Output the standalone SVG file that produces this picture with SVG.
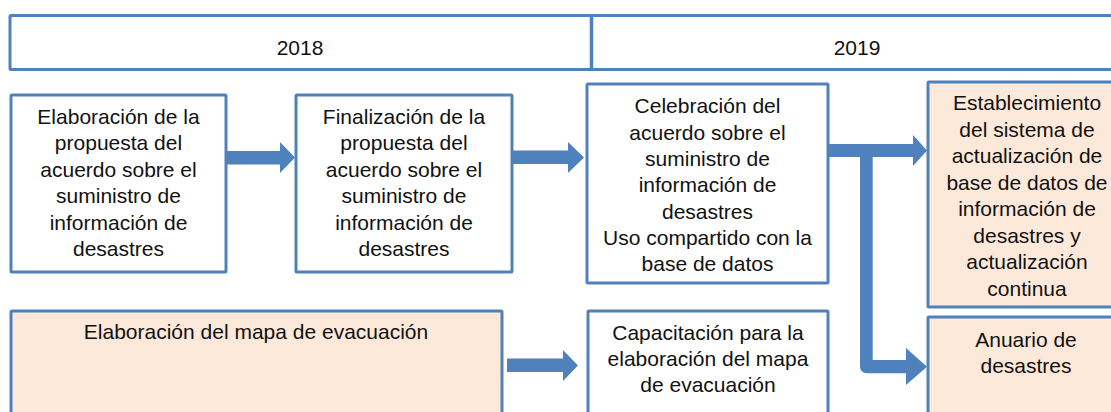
<svg xmlns="http://www.w3.org/2000/svg" width="1111" height="412" viewBox="0 0 1111 412">
<style>
.box{stroke:#4F81BD;stroke-width:3;fill:#FFFFFF}
.peach{fill:#FDE9D9}
.t{font-family:"Liberation Sans",Arial,sans-serif;font-size:21px;fill:#111111;text-anchor:middle}
.arrow{fill:#4F81BD}
</style>
<rect width="1111" height="412" fill="#FFFFFF"/>
<g id="header">
<rect class="box" x="10" y="15.5" width="1120" height="54" rx="1"/>
<line x1="591.5" y1="15.5" x2="591.5" y2="69.5" stroke="#4F81BD" stroke-width="3.5"/>
<text class="t" x="300" y="55">2018</text>
<text class="t" x="857" y="55">2019</text>
</g>
<g id="connectors">
<polygon class="arrow" points="227,151 280,151 280,142 295,157.5 280,173 280,164.5 227,164.5"/>
<polygon class="arrow" points="512,150.5 568,150.5 568,142 584,157.5 568,173 568,164 512,164"/>
<polygon class="arrow" points="507,358.5 563,358.5 563,350 578,365.5 563,381 563,372 507,372"/>
<path class="arrow" d="M825,144 H913 V135 L927,150.5 L913,166 V157 H872.7 V360 H906 V348 L927,366.7 L906,385 V373.3 H867 Q860,373.3 860,366 V157 H825 Z"/>
</g>
<g id="nodeA">
<rect class="box" x="11" y="95" width="215" height="177" rx="1"/>
<text class="t" x="118.5" y="123.5">Elaboración de la</text>
<text class="t" x="118.5" y="150">propuesta del</text>
<text class="t" x="118.5" y="176.5">acuerdo sobre el</text>
<text class="t" x="118.5" y="203">suministro de</text>
<text class="t" x="118.5" y="229.5">información de</text>
<text class="t" x="118.5" y="256">desastres</text>
</g>
<g id="nodeB">
<rect class="box" x="296" y="95" width="216" height="177" rx="1"/>
<text class="t" x="404" y="123.5">Finalización de la</text>
<text class="t" x="404" y="150">propuesta del</text>
<text class="t" x="404" y="176.5">acuerdo sobre el</text>
<text class="t" x="404" y="203">suministro de</text>
<text class="t" x="404" y="229.5">información de</text>
<text class="t" x="404" y="256">desastres</text>
</g>
<g id="nodeC">
<rect class="box" x="587" y="84" width="241" height="199" rx="1"/>
<text class="t" x="707.5" y="113.3">Celebración del</text>
<text class="t" x="707.5" y="139.6">acuerdo sobre el</text>
<text class="t" x="707.5" y="165.9">suministro de</text>
<text class="t" x="707.5" y="192.2">información de</text>
<text class="t" x="707.5" y="218.5">desastres</text>
<text class="t" x="707.5" y="244.8">Uso compartido con la</text>
<text class="t" x="707.5" y="271.1">base de datos</text>
</g>
<g id="nodeD">
<rect class="box peach" x="928" y="82" width="200" height="225" rx="1"/>
<text class="t" x="1027" y="110">Establecimiento</text>
<text class="t" x="1027" y="136.5">del sistema de</text>
<text class="t" x="1027" y="163">actualización de</text>
<text class="t" x="1027" y="189.5">base de datos de</text>
<text class="t" x="1027" y="216">información de</text>
<text class="t" x="1027" y="242.5">desastres y</text>
<text class="t" x="1027" y="269">actualización</text>
<text class="t" x="1027" y="295.5">continua</text>
</g>
<g id="nodeE">
<rect class="box peach" x="11" y="311" width="491" height="120" rx="1"/>
<text class="t" x="256" y="339">Elaboración del mapa de evacuación</text>
</g>
<g id="nodeF">
<rect class="box" x="588" y="311" width="240" height="120" rx="1"/>
<text class="t" x="708" y="340">Capacitación para la</text>
<text class="t" x="708" y="366">elaboración del mapa</text>
<text class="t" x="708" y="392">de evacuación</text>
</g>
<g id="nodeG">
<rect class="box peach" x="928" y="317" width="200" height="120" rx="1"/>
<text class="t" x="1026" y="346.7">Anuario de</text>
<text class="t" x="1026" y="373.3">desastres</text>
</g>
</svg>
